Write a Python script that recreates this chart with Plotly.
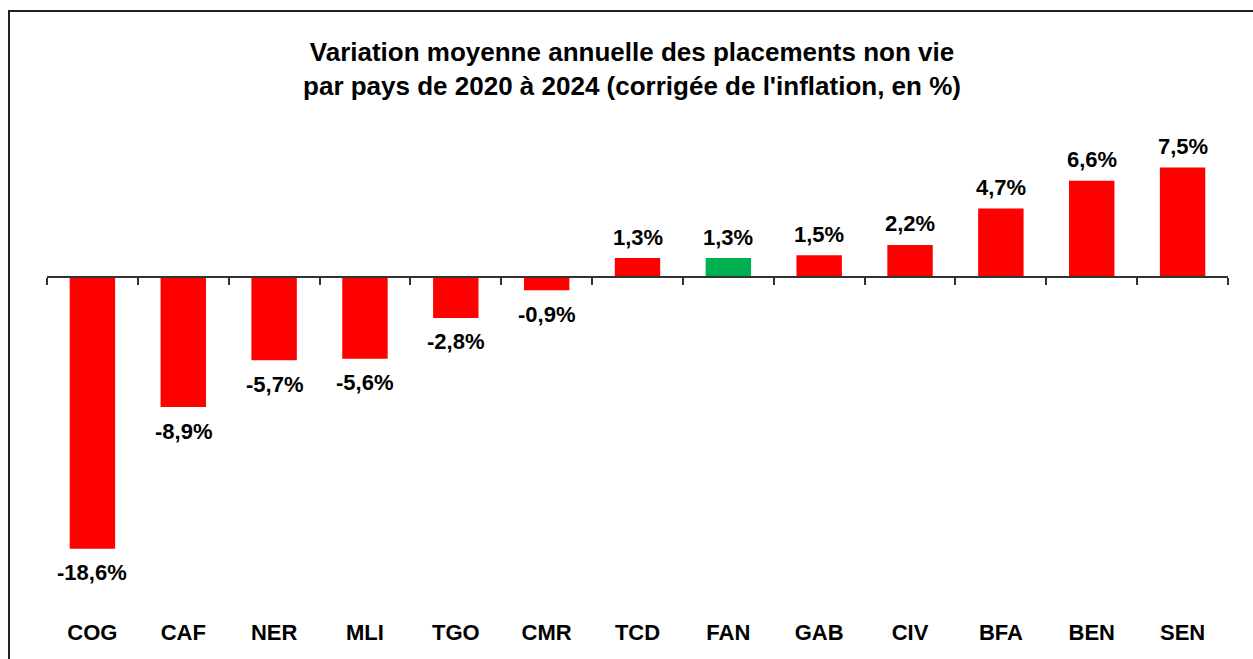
import plotly.graph_objects as go

# Average annual change of non-life investments by country, 2020-2024 (inflation-adjusted, %)
countries = ["COG", "CAF", "NER", "MLI", "TGO", "CMR", "TCD", "FAN", "GAB", "CIV", "BFA", "BEN", "SEN"]
values = [-18.6, -8.9, -5.7, -5.6, -2.8, -0.9, 1.3, 1.3, 1.5, 2.2, 4.7, 6.6, 7.5]
labels = ["-18,6%", "-8,9%", "-5,7%", "-5,6%", "-2,8%", "-0,9%", "1,3%", "1,3%",
          "1,5%", "2,2%", "4,7%", "6,6%", "7,5%"]

RED = "#FF0000"
GREEN = "#00B050"
colors = [GREEN if c == "FAN" else RED for c in countries]

FONT = "Arial, Liberation Sans"
W, H = 1253, 659
M_L, M_R, M_T, M_B = 47, 25, 131, 46
y_min, y_max = -23.0, 10.0

# paper fraction where y = 0 sits, used to place the category axis line
zero_frac = (0 - y_min) / (y_max - y_min)

fig = go.Figure()
fig.add_trace(go.Bar(
    x=countries, y=values, marker=dict(color=colors, line=dict(width=0)),
    width=0.5, hoverinfo="skip",
))
# invisible helper trace that carries the axis drawn through zero
fig.add_trace(go.Bar(x=countries, y=[0] * len(countries), xaxis="x2",
                     marker=dict(color="rgba(0,0,0,0)"), showlegend=False, hoverinfo="skip"))

# value labels placed at each bar end, above positive bars and below negative ones
annotations = [
    dict(x=c, y=v, xref="x", yref="y", text=t, showarrow=False,
         xanchor="center", yanchor="middle", yshift=21 if v >= 0 else -24,
         font=dict(family=FONT, size=22, color="black", weight="bold"))
    for c, v, t in zip(countries, values, labels)
]

fig.update_layout(
    width=W, height=H,
    margin=dict(l=M_L, r=M_R, t=M_T, b=M_B),
    paper_bgcolor="white", plot_bgcolor="white",
    showlegend=False,
    title=dict(
        text="Variation moyenne annuelle des placements non vie<br>par pays de 2020 à 2024 (corrigée de l'inflation, en %)",
        x=632 / W, xanchor="center",
        y=1 - 61 / H, yanchor="middle",
        font=dict(family=FONT, size=26, color="black", weight="bold"),
    ),
    xaxis=dict(
        type="category", showline=False, ticks="", showgrid=False, zeroline=False,
        tickfont=dict(family=FONT, size=22, color="black", weight="bold"),
        ticklabelstandoff=4,
    ),
    xaxis2=dict(
        type="category", overlaying="x", anchor="free", position=zero_frac, side="bottom",
        showline=True, linecolor="#333333", linewidth=2,
        ticks="outside", tickson="boundaries", ticklen=7, tickwidth=2, tickcolor="#333333",
        showticklabels=False, showgrid=False, zeroline=False,
        matches="x",
    ),
    yaxis=dict(range=[y_min, y_max], visible=False, showgrid=False, zeroline=False),
    bargap=0.5,
    barmode="overlay",
    annotations=annotations,
    shapes=[dict(
        type="rect", xref="paper", yref="paper",
        x0=(9 - M_L) / (W - M_L - M_R), x1=(W + 5 - M_L) / (W - M_L - M_R),
        y0=-(M_B + 10) / (H - M_T - M_B), y1=1 + (M_T - 11) / (H - M_T - M_B),
        line=dict(color="#222222", width=2), fillcolor="rgba(0,0,0,0)", layer="below",
    )],
)

fig.write_html("out.html")
